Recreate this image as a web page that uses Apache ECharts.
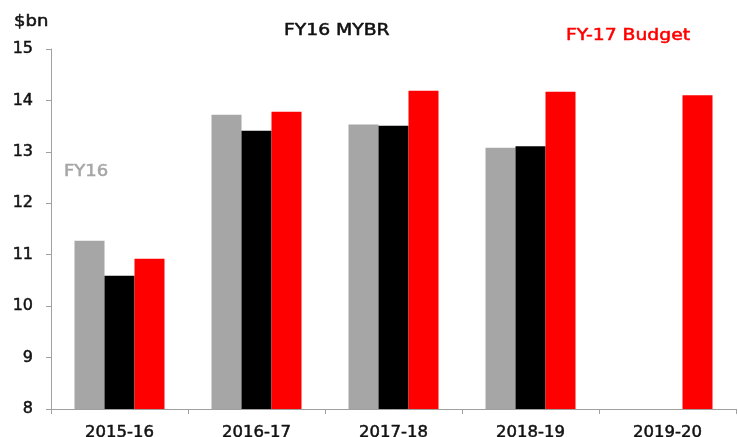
<!DOCTYPE html>
<html>
<head>
<meta charset="utf-8">
<script src="https://cdn.jsdelivr.net/npm/echarts@6/dist/echarts.min.js"></script>
<style>
  html, body { margin: 0; padding: 0; background: #fff; }
  #chart { width: 738px; height: 437px; }
</style>
</head>
<body>
<div id="chart"></div>
<script>
// years on the x axis
var years = ['2015-16', '2016-17', '2017-18', '2018-19', '2019-20'];
// FY16 (grey), FY16 MYBR (black), FY-17 Budget (red)
var fy16 = [11.27, 13.72, 13.53, 13.08, null];
var mybr = [10.59, 13.41, 13.51, 13.11, null];
var budget = [10.92, 13.78, 14.19, 14.17, 14.10];

var font = '"DejaVu Sans", sans-serif';

// free-standing labels, stretched a little to match the wide face of the original
function note(text, x, y, color, sx) {
  return {
    type: 'text', x: x, y: y, scaleX: sx,
    style: {
      text: text, font: '15px ' + font, fill: color,
      stroke: color, lineWidth: 0.5, verticalAlign: 'top'
    }
  };
}

var chart = echarts.init(document.getElementById('chart'));

var option = {
  animation: false,
  textStyle: { fontFamily: font },
  grid: { left: 51, right: 2, top: 49, bottom: 28, outerBoundsMode: 'none' },
  graphic: [
    note('$bn', 14, 15, '#111', 1.2),
    note('FY16 MYBR', 284, 24, '#111', 1.25),
    note('FY-17 Budget', 566, 29, '#ff0000', 1.25),
    note('FY16', 64, 165, '#a6a6a6', 1.2)
  ],
  xAxis: {
    type: 'category',
    data: years,
    axisLine: { lineStyle: { color: '#a0a0a0' } },
    axisTick: { show: true, length: 5, lineStyle: { color: '#a0a0a0' } },
    axisLabel: {
      color: '#111', fontSize: 16.5, margin: 15,
      textBorderColor: '#111', textBorderWidth: 0.5
    }
  },
  yAxis: {
    type: 'value',
    min: 8,
    max: 15,
    interval: 1,
    splitLine: { show: false },
    axisLine: { show: true, lineStyle: { color: '#a0a0a0' } },
    axisTick: { show: true, length: 5, lineStyle: { color: '#a0a0a0' } },
    axisLabel: {
      color: '#111', fontSize: 16, margin: 18,
      textBorderColor: '#111', textBorderWidth: 0.5
    }
  },
  series: [
    { type: 'bar', data: fy16, barWidth: 30, barGap: '0%', itemStyle: { color: '#a6a6a6' } },
    { type: 'bar', data: mybr, barWidth: 30, barGap: '0%', itemStyle: { color: '#000000' } },
    { type: 'bar', data: budget, barWidth: 30, barGap: '0%', itemStyle: { color: '#ff0000' } }
  ]
};

option && chart.setOption(option);
</script>
</body>
</html>
